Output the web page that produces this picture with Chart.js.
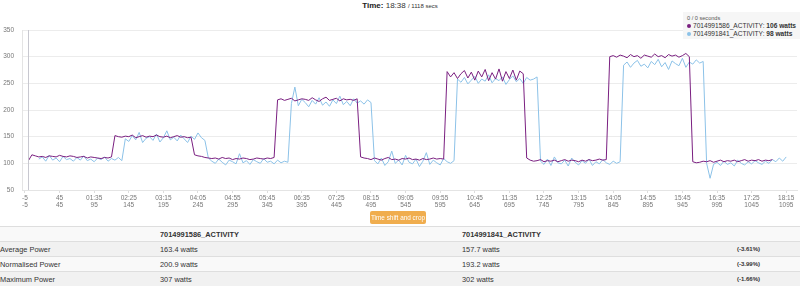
<!DOCTYPE html>
<html lang="en">
<head>
    <meta charset="UTF-8" />
    <title>Power comparison</title>
    <script src="https://cdn.jsdelivr.net/npm/chart.js"></script>
    <style>
        body {
            margin: 0;
            width: 800px;
            height: 290px;
            overflow: hidden;
            background: white;
            font-family: 'Liberation Sans', Arial, sans-serif;
            position: relative;
        }
        .title {
            position: absolute;
            top: 1px;
            left: 0;
            width: 800px;
            text-align: center;
            font-size: 8px;
            color: #333;
        }
        .title b { color: #222; }
        .title small { font-size: 6px; }
        #powerChart {
            position: absolute;
            top: 0;
            left: 0;
        }
        .tip {
            position: absolute;
            left: 683px;
            top: 12px;
            width: 117px;
            height: 27px;
            background: #f6f6f6;
            font-size: 6.6px;
            color: #333;
            padding: 2px 0 0 4px;
            box-sizing: border-box;
            line-height: 8px;
            z-index: 2;
        }
        .tip .sec { font-size: 5.6px; color: #555; }
        .tip .dot {
            display: inline-block;
            width: 4px;
            height: 4px;
            border-radius: 50%;
            margin-right: 2px;
            vertical-align: 0px;
        }
        .btn {
            position: absolute;
            left: 370px;
            top: 211px;
            width: 56px;
            height: 13px;
            line-height: 13px;
            background: #f0ad4e;
            border-radius: 2px;
            color: white;
            font-size: 6.4px;
            text-align: center;
        }
        table {
            position: absolute;
            top: 226px;
            left: 0;
            width: 800px;
            border-collapse: collapse;
            font-size: 7.4px;
            color: #333;
        }
        td {
            height: 14px;
            padding: 0;
            border-top: 1px solid #dedede;
        }
        tr:nth-child(odd) td { background: #f9f9f9; }
        tr:nth-child(even) td { background: #f1f1f1; }
        .pct { font-size: 6px; font-weight: bold; }
    </style>
</head>
<body>
<div class="title"><b>Time:</b> 18:38 <small>/ 1118 secs</small></div>
<canvas id="powerChart" width="800" height="212"></canvas>
<div class="tip">
    <div class="sec">0 / 0 seconds</div>
    <div><span class="dot" style="background:#7a1f80"></span>7014991586_ACTIVITY: <b>106 watts</b></div>
    <div><span class="dot" style="background:#8cc2e8"></span>7014991841_ACTIVITY: <b>98 watts</b></div>
</div>
<div class="btn">Time shift and crop</div>
<table>
    <colgroup><col style="width:160px"><col style="width:302px"><col style="width:275px"><col></colgroup>
    <tr><td></td><td><b>7014991586_ACTIVITY</b></td><td><b>7014991841_ACTIVITY</b></td><td></td></tr>
    <tr><td>Average Power</td><td>163.4 watts</td><td>157.7 watts</td><td class="pct">(-3.61%)</td></tr>
    <tr><td>Normalised Power</td><td>200.9 watts</td><td>193.2 watts</td><td class="pct">(-3.99%)</td></tr>
    <tr><td>Maximum Power</td><td>307 watts</td><td>302 watts</td><td class="pct">(-1.66%)</td></tr>
</table>
<script>
    // seconds of each sample
    const secs = [
        0,5,10,15,20,25,30,35,40,45,50,55,60,65,70,75,80,85,90,95,
        100,105,110,115,120,125,130,135,140,145,150,155,160,165,170,175,180,185,190,195,
        200,205,210,215,220,225,230,235,240,245,250,255,260,265,270,275,280,285,290,295,
        300,305,310,315,320,325,330,335,340,345,350,355,360,365,370,375,380,385,390,395,
        400,405,410,415,420,425,430,435,440,445,450,455,460,465,470,475,480,485,490,495,
        500,505,510,515,520,525,530,535,540,545,550,555,560,565,570,575,580,585,590,595,
        600,605,610,615,620,625,630,635,640,645,650,655,660,665,670,675,680,685,690,695,
        700,705,710,715,720,725,730,735,740,745,750,755,760,765,770,775,780,785,790,795,
        800,805,810,815,820,825,830,835,840,845,850,855,860,865,870,875,880,885,890,895,
        900,905,910,915,920,925,930,935,940,945,950,955,960,965,970,975,980,985,990,995,
        1000,1005,1010,1015,1020,1025,1030,1035,1040,1045,1050,1055,1060,1065,1070,1075,1080,1085,1090,1095
    ];

    // 7014991586_ACTIVITY watts
    const powerA = [
        105,116,114,112,113,111,114,113,112,115,113,112,114,113,111,112,113,110,112,111,110,109,111,110,112,
        152,150,149,151,150,153,148,150,152,149,151,150,153,150,149,151,148,150,152,149,150,148,149,
        116,114,113,111,110,109,110,108,111,109,110,107,109,108,110,109,107,108,110,109,108,110,109,111,
        219,221,218,220,222,217,219,221,220,218,223,219,216,221,224,218,220,222,217,221,219,220,218,221,
        112,110,109,107,110,108,106,109,111,107,108,106,109,108,110,107,108,106,109,107,108,110,108,109,
        108,
        272,262,270,259,268,274,260,271,256,273,262,276,255,270,258,277,254,272,259,275,256,273,268,
        110,106,104,105,107,103,105,104,106,103,105,107,104,106,105,103,106,104,107,105,106,108,106,107,
        300,302,299,303,301,298,304,300,302,297,303,301,299,305,300,302,298,304,301,303,299,302,306,300,
        103,101,102,104,103,105,102,104,106,103,105,104,106,103,105,107,104,106,105,107,104,106,105,107,
        null,null,null,null
    ];

    // 7014991841_ACTIVITY watts
    const powerB = [
        null,null,null,
        108,112,104,115,106,110,103,113,107,109,104,111,106,114,105,108,103,110,107,112,104,109,106,111,105,
        146,141,152,144,158,139,147,150,143,155,140,148,161,144,149,142,153,146,139,151,145,157,148,143,
        110,104,100,108,102,97,106,103,99,118,101,105,98,107,103,100,109,102,104,99,106,101,104,102,
        212,243,208,220,214,206,218,211,223,209,215,207,219,212,226,210,216,208,221,213,217,211,219,214,
        105,99,110,96,103,123,100,106,97,115,102,99,108,94,104,120,98,106,101,97,109,103,100,105,
        258,252,261,249,256,263,250,258,254,266,251,259,255,262,248,257,264,253,259,250,261,256,258,262,
        104,98,108,96,112,101,99,106,95,110,102,97,105,100,108,96,103,99,107,101,98,104,100,103,
        284,290,280,288,293,282,286,279,291,285,295,281,289,276,292,287,283,297,280,290,286,294,288,291,
        100,72,98,102,96,104,98,101,95,106,100,97,103,99,105,101,98,104,100,107,103,110,104,112
    ];

    const tickSecs = [-5,45,95,145,195,245,295,345,395,445,495,545,595,645,695,745,795,845,895,945,995,1045,1095];
    const topLabels = ['-5','45','01:35','02:25','03:15','04:05','04:55','05:45','06:35','07:25','08:15','09:05',
        '09:55','10:45','11:35','12:25','13:15','14:05','14:55','15:45','16:35','17:25','18:15'];
    const bottomLabels = ['-5','45','95','145','195','245','295','345','395','445','495','545',
        '595','645','695','745','795','845','895','945','995','1045','1095'];
    const yTicks = [50,100,150,200,250,300,350];
    const cursorSec = 0;

    const toPoints = vals => vals.map((v, i) => ({x: secs[i], y: v}));

    const cursorLine = {
        id: 'cursorLine',
        afterDatasetsDraw(chart) {
            const {ctx, chartArea, scales} = chart;
            const x = Math.round(scales.x.getPixelForValue(cursorSec)) + 0.5;
            ctx.save();
            ctx.strokeStyle = '#c8c8d0';
            ctx.lineWidth = 1;
            ctx.beginPath();
            ctx.moveTo(x, chartArea.top);
            ctx.lineTo(x, chartArea.bottom);
            ctx.stroke();
            ctx.restore();
        }
    };

    new Chart(document.getElementById('powerChart'), {
        type: 'line',
        data: {
            datasets: [{
                label: '7014991586_ACTIVITY',
                data: toPoints(powerA),
                borderColor: '#7a1f80',
                borderWidth: 1,
                pointRadius: 0,
                tension: 0,
                order: 1
            }, {
                label: '7014991841_ACTIVITY',
                data: toPoints(powerB),
                borderColor: '#8cc2e8',
                borderWidth: 1,
                pointRadius: 0,
                tension: 0,
                order: 2
            }]
        },
        options: {
            responsive: false,
            animation: false,
            devicePixelRatio: 1,
            layout: {padding: {top: 30, right: 3, left: 0, bottom: 0}},
            plugins: {legend: {display: false}, tooltip: {enabled: false}},
            scales: {
                x: {
                    type: 'linear',
                    min: -9.3,
                    max: 1110.6,
                    afterBuildTicks: s => { s.ticks = tickSecs.map(v => ({value: v})); },
                    afterFit: s => { s.height = 22; },
                    grid: {drawOnChartArea: false, color: '#ddd', tickLength: 3},
                    border: {color: '#e4e4e4'},
                    ticks: {
                        autoSkip: false,
                        maxRotation: 0,
                        padding: 1,
                        color: '#777',
                        font: {size: 6.5, family: 'Liberation Sans'},
                        callback: v => {
                            const i = tickSecs.indexOf(v);
                            return i < 0 ? '' : [topLabels[i], bottomLabels[i]];
                        }
                    }
                },
                y: {
                    min: 50,
                    max: 350,
                    afterBuildTicks: s => { s.ticks = yTicks.map(v => ({value: v})); },
                    afterFit: s => { s.width = 22; },
                    grid: {color: '#ececec', drawTicks: false},
                    border: {color: '#e4e4e4'},
                    ticks: {
                        padding: 8,
                        color: '#777',
                        font: {size: 6.5, family: 'Liberation Sans'}
                    }
                }
            }
        },
        plugins: [cursorLine]
    });
</script>
</body>
</html>
